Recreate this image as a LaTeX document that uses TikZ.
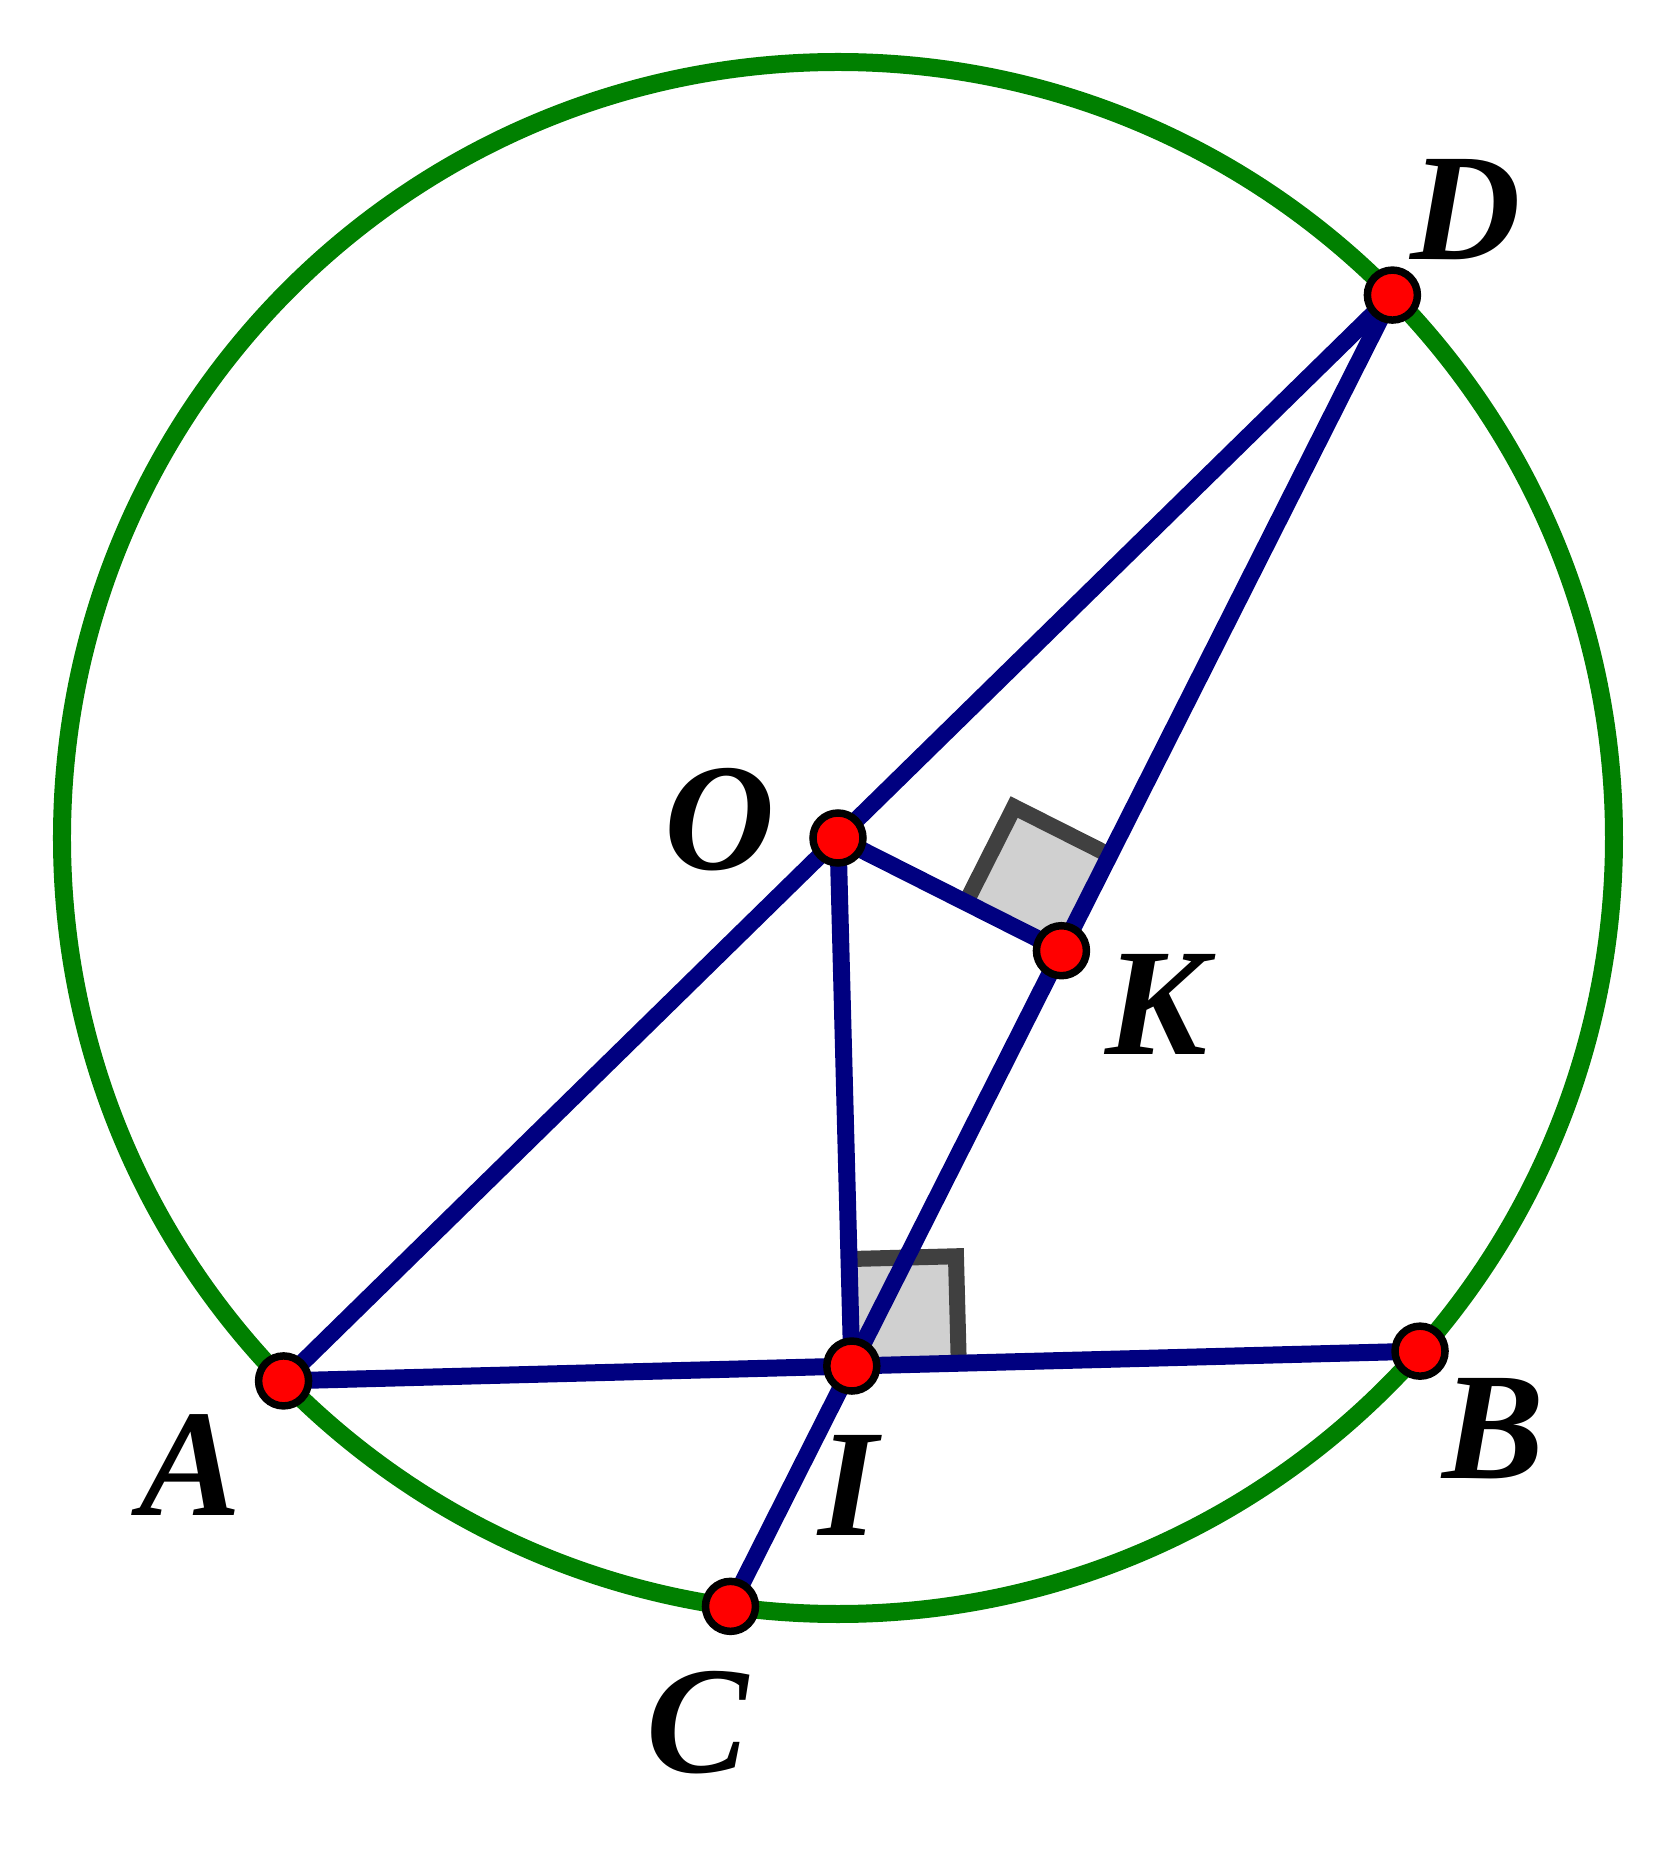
\documentclass[tikz,border=0pt]{standalone}
\usepackage{fontspec}
\setmainfont{Liberation Serif}
\usetikzlibrary{calc}

\definecolor{circgreen}{RGB}{0,128,0}
\definecolor{segblue}{RGB}{0,0,128}
\definecolor{markfill}{RGB}{208,208,208}
\definecolor{markline}{RGB}{64,64,64}

\tikzset{
	seg/.style={segblue, line width=0.17cm},
	markbox/.style={markline, line width=0.16cm},
	pt/.style={fill=red, draw=black, line width=0.075cm},
	lbl/.style={font=\fontsize{43.5}{44}\selectfont\bfseries\itshape, inner sep=0pt},
}

\begin{document}
\begin{tikzpicture}[scale=1.0]

	\useasboundingbox (-8.38,-10.38) rectangle (8.38,8.38);

	% ---- points

	\def\radius{7.76}
	\def\marksize{1.07}

	\coordinate (O) at (0,0);
	\coordinate (D) at (44.4:\radius);
	\coordinate (A) at (224.4:\radius);
	\coordinate (B) at (-41.4:\radius);
	\coordinate (I) at ($(A)!0.5!(B)$);
	\coordinate (K) at ($(D)!(O)!(I)$);
	\coordinate (C) at ($(D)!2!(K)$);

	\draw[circgreen, line width=0.18cm] (O) circle (\radius);

	% ---- right angles

	\coordinate (KO) at ($(K)!\marksize cm!(O)$);
	\coordinate (KD) at ($(K)!\marksize cm!(D)$);
	\coordinate (KM) at ($(KO)+(KD)-(K)$);
	\fill[markfill] (K) -- (KO) -- (KM) -- (KD) -- cycle;
	\draw[markbox] (KO) -- (KM) -- (KD);

	\coordinate (IO) at ($(I)!\marksize cm!(O)$);
	\coordinate (IB) at ($(I)!\marksize cm!(B)$);
	\coordinate (IM) at ($(IO)+(IB)-(I)$);
	\fill[markfill] (I) -- (IO) -- (IM) -- (IB) -- cycle;
	\draw[markbox] (IO) -- (IM) -- (IB);

	% ---- segments

	\draw[seg] (A) -- (D);
	\draw[seg] (A) -- (B);
	\draw[seg] (D) -- (C);
	\draw[seg] (O) -- (I);
	\draw[seg] (O) -- (K);

	\foreach \p in {A,B,C,D,I,K,O} { \draw[pt] (\p) circle (0.25); }

	% ---- labels

	\node[lbl] (labD) at (6.28,6.28) {D};
	\node[lbl] (labA) at (-6.48,-6.27) {A};
	\node[lbl] (labB) at (6.55,-5.91) {B};
	\node[lbl] (labC) at (-1.41,-8.85) {C};
	\node[lbl] (labO) at (-1.18,0.18) {O};
	\node[lbl] (labI) at (0.10,-6.47) {I};
	\node[lbl] (labK) at (3.18,-1.66) {K};

\end{tikzpicture}
\end{document}
